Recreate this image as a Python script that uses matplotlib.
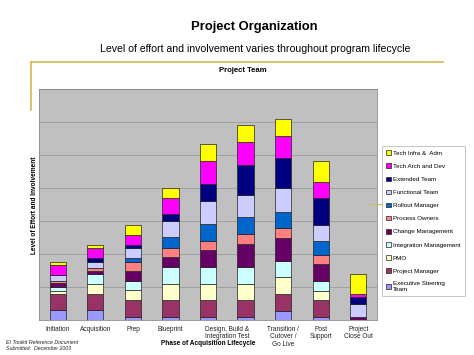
import numpy as np
import matplotlib
matplotlib.use("Agg")
import matplotlib.pyplot as plt
from matplotlib.lines import Line2D
from matplotlib.patches import Patch

plt.rcParams['font.family'] = ['Liberation Sans', 'DejaVu Sans']

# one entry per bar; the two "Design, Build & Integration Test" bars share a label
phases = ['Initiation', 'Acquisition', 'Prep', 'Blueprint',
          'Design, Build &\nIntegration Test', 'Design, Build &\nIntegration Test',
          'Transition /\nCutover /\nGo Live', 'Post\nSupport', 'Project\nClose Out']

# team roles, bottom of the stack first
roles = ['Executive Steering\nTeam', 'Project Manager', 'PMO', 'Integration Management',
         'Change Management', 'Process Owners', 'Rollout Manager', 'Functional Team',
         'Extended Team', 'Tech Arch and Dev', 'Tech Infra &  Adm']

exec_steering = [0.30, 0.30, 0.10, 0.10, 0.10, 0.10, 0.28, 0.10, 0.00]
project_manager = [0.49, 0.50, 0.51, 0.51, 0.51, 0.51, 0.51, 0.51, 0.00]
pmo = [0.08, 0.30, 0.30, 0.49, 0.49, 0.49, 0.51, 0.28, 0.00]
integration_mgmt = [0.12, 0.29, 0.28, 0.51, 0.51, 0.51, 0.49, 0.30, 0.00]
change_mgmt = [0.12, 0.11, 0.30, 0.30, 0.51, 0.69, 0.71, 0.51, 0.10]
process_owners = [0.06, 0.07, 0.28, 0.28, 0.28, 0.30, 0.29, 0.28, 0.00]
rollout_mgr = [0.00, 0.00, 0.12, 0.32, 0.51, 0.51, 0.49, 0.41, 0.00]
functional_team = [0.20, 0.20, 0.28, 0.48, 0.70, 0.68, 0.71, 0.50, 0.39]
extended_team = [0.00, 0.10, 0.10, 0.21, 0.51, 0.91, 0.91, 0.81, 0.22]
tech_arch = [0.30, 0.30, 0.30, 0.50, 0.69, 0.69, 0.69, 0.49, 0.08]
tech_infra = [0.09, 0.10, 0.30, 0.30, 0.51, 0.51, 0.51, 0.62, 0.61]

series = [exec_steering, project_manager, pmo, integration_mgmt, change_mgmt,
          process_owners, rollout_mgr, functional_team, extended_team, tech_arch, tech_infra]
colors = ['#9999FF', '#993366', '#FFFFCC', '#CCFFFF', '#660066', '#FF8080',
          '#0066CC', '#CCCCFF', '#000080', '#FF00FF', '#FFFF00']

fig = plt.figure(figsize=(4.74, 3.55), dpi=100)
ax = fig.add_axes([39 / 474, 1 - 320 / 355, 338 / 474, 231 / 355])

x = np.arange(len(phases))
bottom = np.zeros(len(phases))
for vals, col in zip(series, colors):
    vals = np.array(vals)
    ax.bar(x, vals, 0.43, bottom=bottom, color=col, edgecolor='#202020', linewidth=0.5, zorder=3)
    bottom += vals

ax.set_facecolor('#C0C0C0')
ax.set_xlim(-0.5, len(phases) - 0.5)
ax.set_ylim(0, 7)
ax.set_yticks(np.arange(0, 8))
ax.set_yticklabels([])
ax.grid(axis='y', color='#9a9a9a', linewidth=0.6, zorder=0)
ax.tick_params(axis='both', length=0, pad=4)
for s in ax.spines.values():
    s.set_color('#8a8a8a')
    s.set_linewidth(0.6)

# one tick per distinct label, centred under its bars
tick_pos, tick_lab = [], []
for lab in dict.fromkeys(phases):
    idx = [i for i, p in enumerate(phases) if p == lab]
    tick_pos.append(np.mean(idx))
    tick_lab.append(lab)
ax.set_xticks(tick_pos)
ax.set_xticklabels(tick_lab, fontsize=4.7, color='#222222', linespacing=1.1)

# axis titles placed like the slide (x title sits level with the last tick line)
fig.text(208 / 474, 1 - 343.5 / 355, 'Phase of Acquisition Lifecycle', fontsize=4.7,
         fontweight='bold', ha='center', va='center')
fig.text(34 / 474, 1 - 205 / 355, 'Level of Effort and Involvement', fontsize=4.7,
         fontweight='bold', ha='center', va='center', rotation=90)

handles = [Patch(facecolor=c, edgecolor='#202020', linewidth=0.5) for c in colors]
leg = ax.legend(handles[::-1], roles[::-1], loc='upper left',
                bbox_to_anchor=(382 / 474, 1 - 146 / 355), bbox_transform=fig.transFigure,
                borderaxespad=0, fontsize=4.5, handlelength=0.75, handleheight=0.75,
                handletextpad=0.3, labelspacing=1.22, borderpad=0.7, fancybox=False)
leg.get_frame().set_edgecolor('#aaaaaa')
leg.get_frame().set_linewidth(0.6)

# titles
fig.text(254 / 474, 1 - 27 / 355, 'Project Organization', fontsize=9.4, fontweight='bold',
         ha='center', va='center')
fig.text(255 / 474, 1 - 49 / 355, 'Level of effort and involvement varies throughout program lifecycle',
         fontsize=7.6, ha='center', va='center')
fig.text(243 / 474, 1 - 71 / 355, 'Project Team', fontsize=5.6, fontweight='bold',
         ha='center', va='center')

# gold frame line
gold = '#D6B650'
fig.add_artist(Line2D([31 / 474, 443 / 474], [1 - 62 / 355, 1 - 62 / 355], color=gold,
                      linewidth=1.2, transform=fig.transFigure))
fig.add_artist(Line2D([31 / 474, 31 / 474], [1 - 62 / 355, 1 - 110 / 355], color=gold,
                      linewidth=1.2, transform=fig.transFigure))
fig.add_artist(Line2D([370 / 474, 382 / 474], [1 - 204 / 355, 1 - 204 / 355], color=gold,
                      linewidth=0.8, transform=fig.transFigure))

fig.text(6 / 474, 1 - 345.5 / 355, 'EI Toolkit Reference Document\nSubmitted:  December 2003',
         fontsize=3.8, style='italic', ha='left', va='center', linespacing=1.1, color='#222222')

fig.savefig('out.png', dpi=100)
